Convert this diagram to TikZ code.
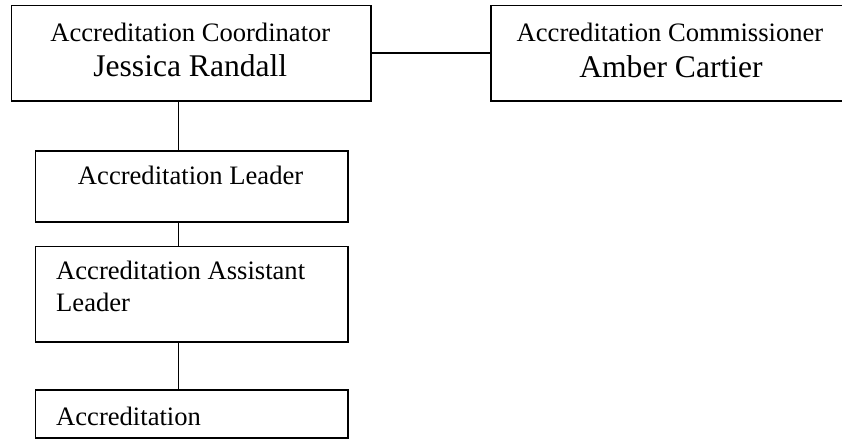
\documentclass[tikz,border=0pt]{standalone}
\usepackage{fontspec}
\setmainfont{Liberation Serif}
\begin{document}
\begin{tikzpicture}[x=1bp,y=-1bp,
  box/.style={draw=black,line width=1.8bp,rectangle,inner sep=0pt,anchor=north west},
  role/.style={inner sep=0pt,anchor=base,font=\fontsize{26.7}{32}\selectfont},
  rolel/.style={inner sep=0pt,anchor=base west,font=\fontsize{26.7}{32}\selectfont},
  person/.style={inner sep=0pt,anchor=base,font=\fontsize{31.7}{36}\selectfont},
  link/.style={draw=black,line width=1.8bp}]
\useasboundingbox (0,0) rectangle (842,439);
\clip (0,0) rectangle (842,439);

% boxes
\node[box,minimum width=359.5bp,minimum height=95.3bp] (coord) at (10.5,4.7) {};
\node[box,minimum width=360bp,minimum height=95.3bp] (comm) at (490,4.7) {};
\node[box,minimum width=312.2bp,minimum height=71bp] (lead) at (34.5,150) {};
\node[box,minimum width=312.2bp,minimum height=95.3bp] (assist) at (34.5,245.7) {};
\node[box,minimum width=312.2bp,minimum height=47.7bp] (accr) at (34.5,389) {};

% texts
\node[role] (coordT) at (190.3,41.7) {Accreditation Coordinator};
\node[person] (coordN) at (190.3,76.8) {Jessica Randall};
\node[role] (commT) at (670,41.7) {Accreditation Commissioner};
\node[person] (commN) at (671,77.3) {Amber Cartier};
\node[role] (leadT) at (190.6,185) {Accreditation Leader};
\node[rolel] (assistT) at (56,280) {Accreditation Assistant};
\node[rolel] (assistT2) at (56,311.8) {Leader};
\node[rolel] (accrT) at (56,425) {Accreditation};

% connectors
\coordinate (spine) at (178.5,0);
\draw[link] (coord.east) -- (comm.west);
\draw[link] (coord.south -| spine) -- (lead.north -| spine);
\draw[link] (lead.south -| spine) -- (assist.north -| spine);
\draw[link] (assist.south -| spine) -- (accr.north -| spine);
\end{tikzpicture}
\end{document}
